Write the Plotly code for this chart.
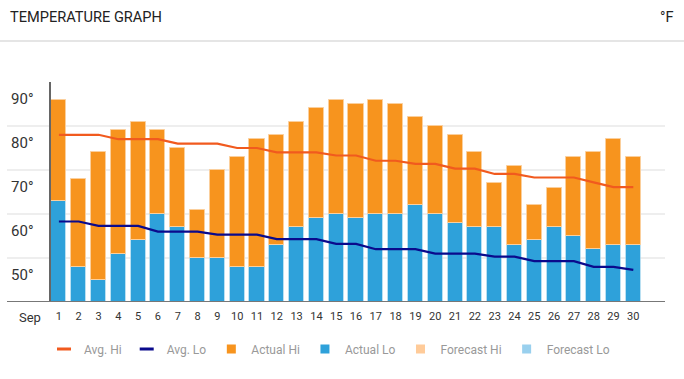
import plotly.graph_objects as go

days = list(range(1, 31))
day_labels = [str(d) for d in days]
actual_hi = [86, 68, 74, 79, 81, 79, 75, 61, 70, 73, 77, 78, 81, 84, 86,
             85, 86, 85, 82, 80, 78, 74, 67, 71, 62, 66, 73, 74, 77, 73]
actual_lo = [63, 48, 45, 51, 54, 60, 57, 50, 50, 48, 48, 53, 57, 59, 60,
             59, 60, 60, 62, 60, 58, 57, 57, 53, 54, 57, 55, 52, 53, 53]
avg_hi = [78, 78, 78, 77, 77, 77, 76, 76, 76, 75, 75, 74, 74, 74, 73.3,
          73.3, 72.1, 72.1, 71.4, 71.4, 70.3, 70.3, 69.1, 69.1, 68.3, 68.3, 68.3, 67.2, 66.1, 66.1]
avg_lo = [58.3, 58.3, 57.3, 57.3, 57.3, 56, 56, 56, 55.3, 55.3, 55.3, 54.3, 54.3, 54.3, 53.2,
          53.2, 52, 52, 52, 51, 51, 51, 50.3, 50.3, 49.3, 49.3, 49.3, 48, 48, 47.3]
forecast_hi = []
forecast_lo = []
y_ticks = [50, 60, 70, 80, 90]
y_tick_text = [f"{v}°" for v in y_ticks]

C_HI = "#f7941e"
C_LO = "#2ea1da"
C_AVG_HI = "#f15a1e"
C_AVG_LO = "#0a0a8c"
C_FC_HI = "#ffcb99"
C_FC_LO = "#99d0ee"

FONT = "Roboto, sans-serif"

fig = go.Figure()

fig.add_trace(go.Bar(x=days, y=actual_lo, marker=dict(color=C_LO, line=dict(color="rgba(255,255,255,0.35)", width=1)),
                     width=0.76, showlegend=False, name="Actual Lo"))
fig.add_trace(go.Bar(x=days, y=[h - l for h, l in zip(actual_hi, actual_lo)], base=actual_lo,
                     marker=dict(color=C_HI, line=dict(color="#fbcf9c", width=1)),
                     width=0.76, showlegend=False, name="Actual Hi"))
fig.add_trace(go.Bar(x=days[:len(forecast_hi)], y=forecast_hi, marker_color=C_FC_HI, showlegend=False))
fig.add_trace(go.Bar(x=days[:len(forecast_lo)], y=forecast_lo, marker_color=C_FC_LO, showlegend=False))
fig.add_trace(go.Scatter(x=days, y=avg_hi, mode="lines", line=dict(color=C_AVG_HI, width=2.2), showlegend=False))
fig.add_trace(go.Scatter(x=days, y=avg_lo, mode="lines", line=dict(color=C_AVG_LO, width=2.2), showlegend=False))

# legend entries
for name, col, sym in [("Avg. Hi", C_AVG_HI, "line-ew"), ("Avg. Lo", C_AVG_LO, "line-ew"),
                       ("Actual Hi", C_HI, "square"), ("Actual Lo", C_LO, "square"),
                       ("Forecast Hi", C_FC_HI, "square"), ("Forecast Lo", C_FC_LO, "square")]:
    if sym == "line-ew":
        mk = dict(symbol=sym, size=10, line=dict(color=col, width=3), color=col)
    else:
        mk = dict(symbol=sym, size=9, color=col, line=dict(width=0))
    fig.add_trace(go.Scatter(x=[None], y=[None], mode="markers", marker=mk, name=name, showlegend=True))

W, H = 684, 379
ML, MR, MT, MB = 7, 19, 82, 77
PW = W - ML - MR
PH = H - MT - MB

def px_x(px):
    return (px - ML) / PW

def px_y(py):
    return (H - MB - py) / PH

fig.update_layout(
    width=W, height=H,
    margin=dict(l=ML, r=MR, t=MT, b=MB, pad=0, autoexpand=False),
    plot_bgcolor="white", paper_bgcolor="white",
    barmode="overlay",
    bargap=0,
    font=dict(family=FONT, color="#333"),
    xaxis=dict(range=[-1.62, 31.6], tickvals=days, ticktext=day_labels, showgrid=False,
               zeroline=False, showline=False, ticks="outside", ticklen=4, automargin=False,
               tickcolor="rgba(0,0,0,0)", tickfont=dict(size=11, color="#333", family=FONT)),
    yaxis=dict(range=[40, 90], tickvals=y_ticks, ticktext=y_tick_text, anchor="free",
               position=px_x(49.5), showgrid=True, gridcolor="#eeeeee", gridwidth=2,
               zeroline=False, showline=True, linecolor="#666666", linewidth=2, automargin=False,
               ticks="", ticklabelshift=17, ticklabelstandoff=12,
               tickfont=dict(size=15, color="#333", family=FONT)),
    legend=dict(orientation="h", x=px_x(44), xanchor="left", y=px_y(349), yanchor="middle",
                font=dict(size=12, color="#999999", family=FONT), bgcolor="rgba(0,0,0,0)",
                itemwidth=30),
    shapes=[
        dict(type="line", xref="paper", yref="y", x0=0, x1=1, y0=40, y1=40,
             line=dict(color="#777777", width=2), layer="above"),
        dict(type="line", xref="paper", yref="paper", x0=px_x(0), x1=px_x(684), y0=px_y(41), y1=px_y(41),
             line=dict(color="#dddddd", width=1.5)),
    ],
    annotations=[
        dict(text="TEMPERATURE GRAPH", xref="paper", yref="paper", x=px_x(8), y=px_y(17),
             xanchor="left", yanchor="middle", showarrow=False,
             font=dict(size=14.6, color="#222", family="Roboto, sans-serif")),
        dict(text="°F", xref="paper", yref="paper", x=px_x(676), y=px_y(17),
             xanchor="right", yanchor="middle", showarrow=False,
             font=dict(size=14.6, color="#222", family="Roboto, sans-serif")),
        dict(text="Sep", xref="paper", yref="paper", x=px_x(30), y=px_y(317),
             xanchor="center", yanchor="middle", showarrow=False,
             font=dict(size=13, color="#333", family=FONT)),
    ],
)

fig.write_html("out.html", config={"displayModeBar": False},
               post_script="document.body.style.margin='0px';")
